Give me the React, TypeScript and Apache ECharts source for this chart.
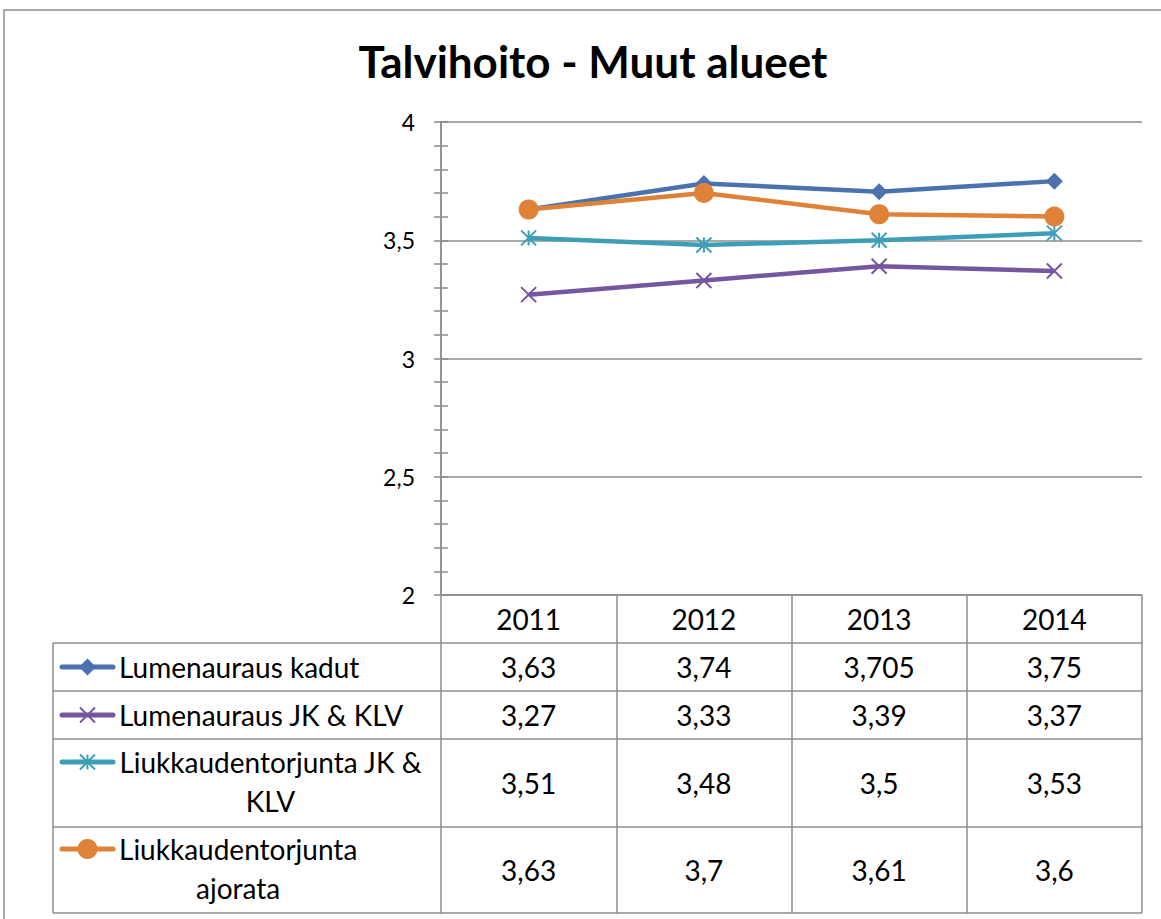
import React, { useEffect, useRef } from "react";
import * as echarts from "echarts";

const title = "Talvihoito - Muut alueet";
const years = ["2011", "2012", "2013", "2014"];
const seriesNames = [
  "Lumenauraus kadut",
  "Lumenauraus JK & KLV",
  "Liukkaudentorjunta JK & KLV",
  "Liukkaudentorjunta ajorata",
];
const legendLines = [
  ["Lumenauraus kadut"],
  ["Lumenauraus JK & KLV"],
  ["Liukkaudentorjunta JK &", "KLV"],
  ["Liukkaudentorjunta", "ajorata"],
];
const lumenaurausKadut = [3.63, 3.74, 3.705, 3.75];
const lumenaurausJK = [3.27, 3.33, 3.39, 3.37];
const liukkausJK = [3.51, 3.48, 3.5, 3.53];
const liukkausAjorata = [3.63, 3.7, 3.61, 3.6];
const seriesValues = [lumenaurausKadut, lumenaurausJK, liukkausJK, liukkausAjorata];
const colors = ["#4a72af", "#7556a0", "#3d9fb7", "#df8237"];
const markerKinds = ["diamond", "x", "star", "circle"];
const yMin = 2;
const yMax = 4;
const yStep = 0.5;

const FONT = "Lato, 'Open Sans', sans-serif";
const GRAY = "#8c8c8c";
const TABLE_FS = 28;
const fmt = (v: number) => String(v).replace(".", ",");

const symbolFor = (k: string) => {
  if (k === "x") return "path://M0,0L10,10M10,0L0,10";
  if (k === "star") return "path://M0,0L10,10M10,0L0,10M5,0L5,10";
  return k;
};
const symbolSizeFor = (k: string) => (k === "circle" ? 20 : k === "diamond" ? 17 : 15);

// layout constants
const GRID_L = 441;
const GRID_T = 122;
const GRID_W = 701;
const GRID_H = 473;
const TABLE_L = 53;
const ROW_EDGES = [643, 691, 739, 827, 913];
const LEGEND_LINE_Y = [[667], [715], [762, 801], [849, 888]];

function markerGraphic(kind: string, cx: number, cy: number, color: string) {
  if (kind === "diamond") {
    return {
      type: "polygon",
      shape: { points: [[cx, cy - 8.5], [cx + 8.5, cy], [cx, cy + 8.5], [cx - 8.5, cy]] },
      style: { fill: color },
      z: 20,
    };
  }
  if (kind === "circle") {
    return { type: "circle", shape: { cx, cy, r: 10 }, style: { fill: color }, z: 20 };
  }
  const h = 7.5;
  const lines: any[] = [
    { type: "line", shape: { x1: cx - h, y1: cy - h, x2: cx + h, y2: cy + h }, style: { stroke: color, lineWidth: 2 }, z: 20 },
    { type: "line", shape: { x1: cx + h, y1: cy - h, x2: cx - h, y2: cy + h }, style: { stroke: color, lineWidth: 2 }, z: 20 },
  ];
  if (kind === "star") {
    lines.push({ type: "line", shape: { x1: cx, y1: cy - h, x2: cx, y2: cy + h }, style: { stroke: color, lineWidth: 2 }, z: 20 });
  }
  return { type: "group", children: lines };
}

export default function App() {
  const ref = useRef<HTMLDivElement>(null);
  useEffect(() => {
    if (!ref.current) return;
    const chart = echarts.init(ref.current, undefined, { renderer: "svg" });
    const yCommon = {
      type: "value",
      min: yMin,
      max: yMax,
      interval: yStep,
      position: "left",
      axisLine: { show: true, lineStyle: { color: GRAY, width: 1.5 } },
    };
    chart.setOption({
      animation: false,
      backgroundColor: "#ffffff",
      title: {
        text: title,
        left: 588,
        top: 34,
        textAlign: "center",
        textStyle: { fontFamily: FONT, fontWeight: "bold", fontSize: 44, color: "#000" },
      },
      grid: { left: GRID_L, top: GRID_T, width: GRID_W, height: GRID_H, containLabel: false },
      xAxis: {
        type: "category",
        data: years,
        boundaryGap: true,
        axisLine: { show: true, lineStyle: { color: GRAY, width: 1.5 } },
        axisTick: { show: true, alignWithLabel: false, length: ROW_EDGES[4] - (GRID_T + GRID_H), lineStyle: { color: GRAY, width: 1.5 } },
        axisLabel: { fontFamily: FONT, fontSize: TABLE_FS, color: "#000", margin: 10, lineHeight: 28 },
        splitLine: { show: false },
      },
      yAxis: [
        {
          ...yCommon,
          axisTick: { show: true, length: 7, lineStyle: { color: GRAY, width: 1.5 } },
          minorTick: { show: true, splitNumber: 5, length: 7, lineStyle: { color: GRAY, width: 1.5 } },
          axisLabel: { fontFamily: FONT, fontSize: 23, color: "#000", margin: 26, formatter: (v: number) => fmt(v) },
          splitLine: { show: true, lineStyle: { color: GRAY, width: 1.5 } },
        },
        {
          ...yCommon,
          axisTick: { show: true, inside: true, length: 7, lineStyle: { color: GRAY, width: 1.5 } },
          minorTick: { show: true, splitNumber: 5, length: 7, lineStyle: { color: GRAY, width: 1.5 } },
          axisLabel: { show: false },
          splitLine: { show: false },
        },
      ],
      series: seriesNames.map((name, i) => ({
        name,
        type: "line",
        data: seriesValues[i],
        yAxisIndex: 0,
        color: colors[i],
        symbol: symbolFor(markerKinds[i]),
        symbolSize: symbolSizeFor(markerKinds[i]),
        showSymbol: true,
        lineStyle: { width: 4.5, color: colors[i] },
        itemStyle: {
          color: colors[i],
          borderColor: colors[i],
          borderWidth: markerKinds[i] === "x" || markerKinds[i] === "star" ? 2 : 0,
        },
        z: 3 + i,
      })),
    });

    // table and legend
    const ctx = document.createElement("canvas").getContext("2d")!;
    ctx.font = `${TABLE_FS}px ${FONT}`;
    const g: any[] = [];
    g.push({
      type: "rect",
      shape: { x: 4, y: 10, width: 1300, height: 1100 },
      style: { fill: "none", stroke: GRAY, lineWidth: 1.5 },
      silent: true,
    });
    ROW_EDGES.forEach((y) => {
      g.push({ type: "line", shape: { x1: TABLE_L, y1: y, x2: GRID_L + GRID_W, y2: y }, style: { stroke: GRAY, lineWidth: 1.5 } });
    });
    g.push({ type: "line", shape: { x1: TABLE_L, y1: ROW_EDGES[0], x2: TABLE_L, y2: ROW_EDGES[4] }, style: { stroke: GRAY, lineWidth: 1.5 } });

    seriesNames.forEach((_, i) => {
      const rowMid = (ROW_EDGES[i] + ROW_EDGES[i + 1]) / 2;
      years.forEach((yr, j) => {
        const x = chart.convertToPixel({ xAxisIndex: 0 }, yr) as number;
        g.push({
          type: "text",
          x,
          y: rowMid,
          style: { text: fmt(seriesValues[i][j]), fontFamily: FONT, fontSize: TABLE_FS, fill: "#000", align: "center", verticalAlign: "middle" },
        });
      });
      const ly = LEGEND_LINE_Y[i][0];
      g.push({ type: "line", shape: { x1: 62, y1: ly, x2: 113, y2: ly }, style: { stroke: colors[i], lineWidth: 5, lineCap: "round" }, z: 19 });
      g.push(markerGraphic(markerKinds[i], 87.5, ly, colors[i]));
      const lines = legendLines[i];
      if (lines.length === 1) {
        g.push({ type: "text", x: 119, y: ly, style: { text: lines[0], fontFamily: FONT, fontSize: TABLE_FS, fill: "#000", align: "left", verticalAlign: "middle" } });
      } else {
        const w = Math.max(...lines.map((t) => ctx.measureText(t).width));
        lines.forEach((t, k) => {
          g.push({ type: "text", x: 119 + w / 2, y: LEGEND_LINE_Y[i][k], style: { text: t, fontFamily: FONT, fontSize: TABLE_FS, fill: "#000", align: "center", verticalAlign: "middle" } });
        });
      }
    });
    chart.setOption({ graphic: g });
    return () => chart.dispose();
  }, []);
  return <div ref={ref} style={{ position: "absolute", left: 0, top: 0, width: 1161, height: 919 }} />;
}
